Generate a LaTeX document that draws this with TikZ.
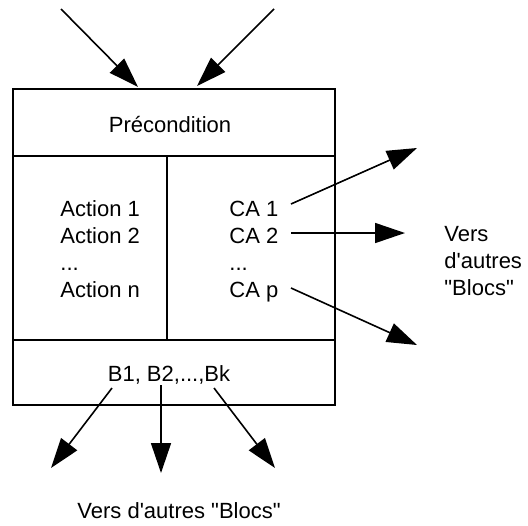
\documentclass[tikz,border=0pt]{standalone}
\usepackage{fontspec}
\setmainfont{Liberation Sans}[Ligatures=TeXOff]
\usetikzlibrary{arrows.meta}
\begin{document}
\begin{tikzpicture}[x=0.5pt,y=-0.5pt,
  txt/.style={font=\fontsize{11}{13.5}\selectfont, inner sep=0pt, anchor=base west},
  ctxt/.style={font=\fontsize{11}{13.5}\selectfont, inner sep=0pt, anchor=base},
  boxline/.style={line width=1pt},
  arr/.style={line width=0.8pt, -{Triangle[length=15pt,width=10pt]}}]
\useasboundingbox (0,0) rectangle (528,525);
% box
\draw[boxline] (13,89) rectangle (335,405);
\draw[boxline] (13,156) -- (335,156);
\draw[boxline] (13,340) -- (335,340);
\draw[boxline] (167,156) -- (167,340);
% texts
\node[ctxt] (pre) at (170,132) {Précondition};
\node[txt] (a1) at (60,216) {Action 1};
\node[txt] (a2) at (60,243) {Action 2};
\node[txt] (a3) at (60,270) {...};
\node[txt] (an) at (60,297) {Action n};
\node[txt] (c1) at (229,216) {CA 1};
\node[txt] (c2) at (229,243) {CA 2};
\node[txt] (c3) at (229,270) {...};
\node[txt] (cp) at (229,297) {CA p};
\node[ctxt] (bk) at (169,381) {B1, B2,...,Bk};
\node[txt] (v1) at (444,241) {Vers};
\node[txt] (v2) at (444,268) {d'autres};
\node[txt] (v3) at (444,295) {"Blocs"};
\node[txt] (vb) at (77,518) {Vers d'autres "Blocs"};
% arrow endpoints
\coordinate (tls) at (61,9);
\coordinate (tle) at (138,87);
\coordinate (trs) at (274,9);
\coordinate (tre) at (197,86);
\coordinate (c1s) at (291,204);
\coordinate (c1e) at (417,148);
\coordinate (c2s) at (291,233);
\coordinate (c2e) at (405,233);
\coordinate (cps) at (291,288);
\coordinate (cpe) at (417,345);
\coordinate (b1s) at (112,388);
\coordinate (b1e) at (51,468);
\coordinate (b2s) at (161,385);
\coordinate (b2e) at (161,473);
\coordinate (b3s) at (214,388);
\coordinate (b3e) at (275,468);
\draw[arr] (tls) -- (tle);
\draw[arr] (trs) -- (tre);
\draw[arr] (c1s) -- (c1e);
\draw[arr] (c2s) -- (c2e);
\draw[arr] (cps) -- (cpe);
\draw[arr] (b1s) -- (b1e);
\draw[arr] (b2s) -- (b2e);
\draw[arr] (b3s) -- (b3e);
\end{tikzpicture}
\end{document}
